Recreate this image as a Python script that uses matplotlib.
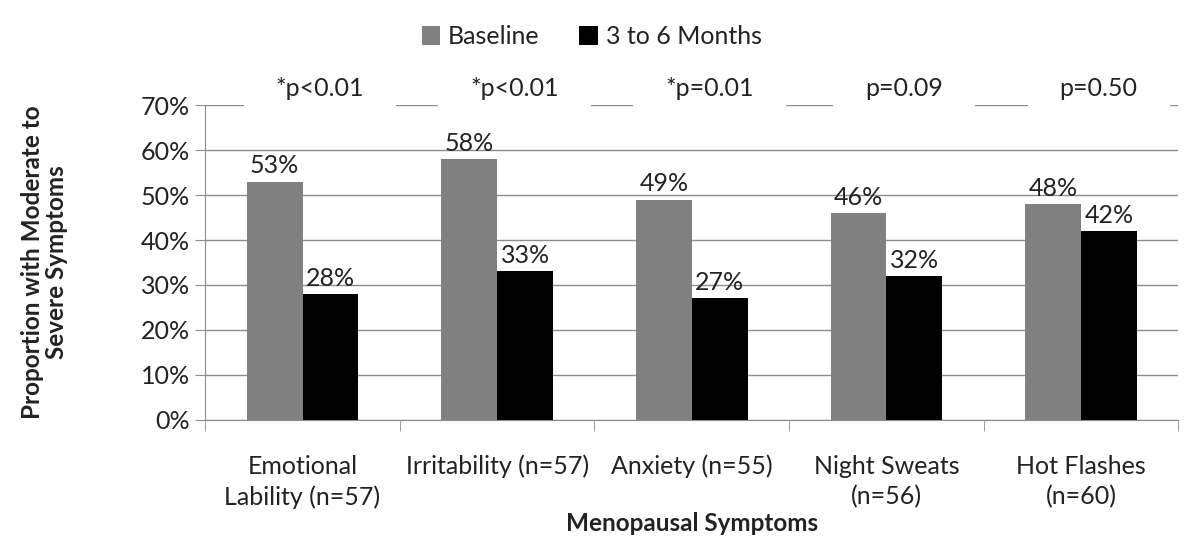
"""Grouped bar chart: moderate-to-severe menopausal symptoms, baseline vs 3-6 months."""

import matplotlib
matplotlib.use("Agg")
import matplotlib.pyplot as plt
from matplotlib.patches import Patch
import numpy as np

plt.rcParams["font.family"] = ["Lato", "DejaVu Sans"]
font_size = 18

categories = ["Emotional\nLability (n=57)", "Irritability (n=57)", "Anxiety (n=55)",
              "Night Sweats\n(n=56)", "Hot Flashes\n(n=60)"]
baseline = [0.53, 0.58, 0.49, 0.46, 0.48]
followup = [0.28, 0.33, 0.27, 0.32, 0.42]
p_labels = ["*p<0.01", "*p<0.01", "*p=0.01", "p=0.09", "p=0.50"]
series_names = ["Baseline", "3 to 6 Months"]

grid_col = "#8c8c8c"
text_col = "#222222"
fig = plt.figure(figsize=(12, 5.39), dpi=100)
ax = fig.add_axes([0.171, 0.221, 0.811, 0.584])

x = np.arange(len(categories))
w = 0.287
b1 = ax.bar(x - w / 2, baseline, w, color="#808080", zorder=3)
b2 = ax.bar(x + w / 2, followup, w, color="#000000", zorder=3)

for bars, vals in [(b1, baseline), (b2, followup)]:
    for rect, v in zip(bars, vals):
        ax.annotate(f"{v * 100:.0f}%", (rect.get_x() + rect.get_width() / 2, v),
                    xytext=(0, 3), textcoords="offset points",
                    ha="center", va="bottom", fontsize=font_size, color=text_col)

# p-values sit on the 70% gridline with a white box over it
for xi, lab in zip(x, p_labels):
    ax.text(xi + 0.09, 0.737, lab, ha="center", va="center", fontsize=font_size,
            color=text_col, zorder=5,
            bbox=dict(facecolor="white", edgecolor="none", pad=23))

ax.set_xlim(-0.5, len(categories) - 0.5)
ax.set_ylim(0, 0.7)
yt = np.arange(0, 0.71, 0.1)
ax.set_yticks(yt)
ax.set_yticklabels([f"{t * 100:.0f}%" for t in yt], fontsize=font_size, color=text_col)
ax.yaxis.grid(True, color=grid_col, linewidth=1, zorder=0)
ax.tick_params(axis="y", length=7, color=grid_col, pad=4)

ax.set_xticks(x)
ax.set_xticklabels(categories, fontsize=font_size, linespacing=1.4, color=text_col)
ax.set_xticks(np.arange(-0.5, len(categories)), minor=True)
ax.tick_params(axis="x", which="major", length=0, pad=25)
ax.tick_params(axis="x", which="minor", length=8, color=grid_col, direction="out")

for s in ["top", "right"]:
    ax.spines[s].set_visible(False)
for s in ["left", "bottom"]:
    ax.spines[s].set_color(grid_col)

ax.set_xlabel("Menopausal Symptoms", fontsize=17.5, fontweight="bold", labelpad=2,
              color=text_col)
ax.set_ylabel("Proportion with Moderate to\nSevere Symptoms", fontsize=17.5,
              fontweight="bold", labelpad=52, linespacing=1.1, color=text_col)

handles = [Patch(facecolor="#808080"), Patch(facecolor="#000000")]
fig.legend(handles, series_names, loc="upper center", bbox_to_anchor=(0.493, 0.995),
           ncol=2, frameon=False, fontsize=font_size, handlelength=0.75,
           handleheight=0.75, handletextpad=0.3, columnspacing=1.6,
           labelcolor=text_col)

fig.savefig("out.png", dpi=100)
